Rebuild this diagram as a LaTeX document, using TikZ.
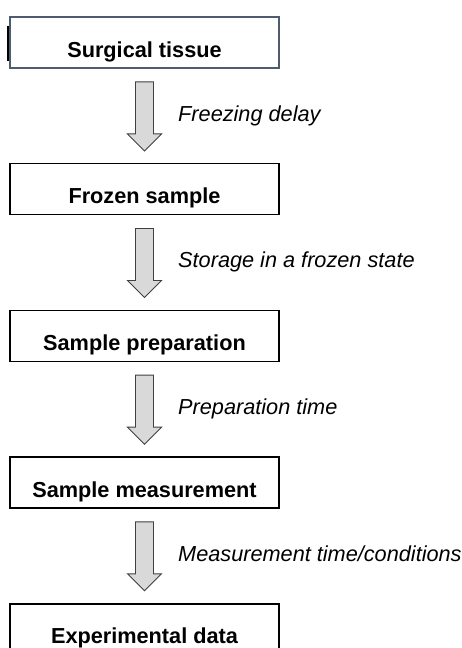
\documentclass[tikz,border=0pt]{standalone}
\usepackage{fontspec}
\setmainfont{Liberation Sans}
\usetikzlibrary{calc}
\definecolor{slateborder}{HTML}{4F5B6E}
\definecolor{arrowfill}{HTML}{D9D9D9}
\definecolor{arrowline}{HTML}{404040}
\tikzset{
  stepbox/.style={draw=black, line width=1.5pt, fill=white, rectangle,
    minimum width=269pt, minimum height=51pt, inner sep=0pt,
    text height=29pt, text depth=0pt,
    font=\fontsize{21.7}{24}\selectfont\bfseries},
  steplabel/.style={anchor=base west, inner sep=0pt,
    font=\fontsize{21.7}{24}\selectfont\itshape},
  blockarrow/.style={draw=arrowline, line width=0.9pt, fill=arrowfill, line join=miter}
}
\newcommand{\blockarr}[1]{%
  \draw[blockarrow] ($(#1.south)+(-9,13)$) -- ($(#1.south)+(9,13)$)
    -- ($(#1.south)+(9,65)$) -- ($(#1.south)+(17,65)$)
    -- ($(#1.south)+(0,82)$) -- ($(#1.south)+(-17,65)$)
    -- ($(#1.south)+(-9,65)$) -- cycle;}
\begin{document}
\begin{tikzpicture}[x=1pt,y=-1pt]
\clip (0,0) rectangle (461,648);
\fill[white] (0,0) rectangle (461,648);
\node[stepbox, draw=slateborder, line width=1.8pt] (b1) at (144.5,42.5) {Surgical tissue};
\node[stepbox] (b2) at (144.5,189.2) {Frozen sample};
\node[stepbox] (b3) at (144.5,335.9) {Sample preparation};
\node[stepbox] (b4) at (144.5,482.6) {Sample measurement};
\node[stepbox] (b5) at (144.5,629.3) {Experimental data};
\coordinate (m1) at ($(b1.west)+(-1.2,-17)$);
\coordinate (m2) at ($(b1.west)+(-1.2,18)$);
\draw[black, line width=1.5pt] (m1) -- (m2);
\blockarr{b1}
\blockarr{b2}
\blockarr{b3}
\blockarr{b4}
\node[steplabel] (l1) at (178,121) {Freezing delay};
\node[steplabel] (l2) at (178,267.7) {Storage in a frozen state};
\node[steplabel] (l3) at (178,414.4) {Preparation time};
\node[steplabel] (l4) at (178,561.1) {Measurement time/conditions};
\end{tikzpicture}
\end{document}
